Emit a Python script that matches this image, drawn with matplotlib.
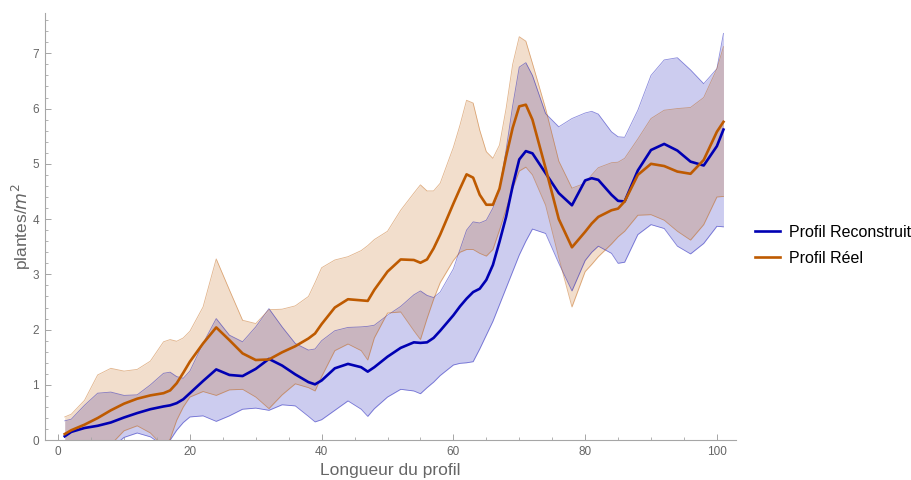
import matplotlib.pyplot as plt
from matplotlib.ticker import MultipleLocator

plt.rcParams["font.family"] = ["Liberation Sans", "DejaVu Sans"]

# positions le long du profil
x = [1, 2, 4, 6, 8, 10, 12, 14, 16, 17, 18, 19, 20, 22, 24, 26, 28, 30, 32, 34,
     36, 38, 39, 40, 42, 44, 46, 47, 48, 50, 52, 54, 55, 56, 57, 58, 60, 61, 62, 63,
     64, 65, 66, 67, 68, 69, 70, 71, 72, 74, 76, 78, 80, 81, 82, 84, 85, 86, 88, 90,
     92, 94, 96, 98, 100, 101]

# profil reconstruit (moyenne, bornes basse / haute)
recon_mid = [0.07, 0.15, 0.22, 0.26, 0.32, 0.41, 0.49, 0.56, 0.61, 0.63, 0.67, 0.74, 0.85, 1.07, 1.28, 1.18, 1.16, 1.29, 1.47, 1.35,
             1.19, 1.05, 1.01, 1.08, 1.30, 1.38, 1.32, 1.24, 1.32, 1.51, 1.67, 1.77, 1.76, 1.77, 1.85, 1.98, 2.26, 2.42, 2.56, 2.68,
             2.74, 2.90, 3.17, 3.59, 4.04, 4.60, 5.08, 5.23, 5.19, 4.83, 4.47, 4.25, 4.70, 4.74, 4.71, 4.44, 4.33, 4.32, 4.88, 5.25,
             5.36, 5.24, 5.04, 4.97, 5.32, 5.62]
recon_low = [-0.30, -0.30, -0.30, -0.25, -0.15, 0.05, 0.13, 0.06, -0.10, 0.00, 0.18, 0.32, 0.42, 0.44, 0.34, 0.44, 0.56, 0.58, 0.54, 0.64,
             0.62, 0.43, 0.33, 0.37, 0.54, 0.71, 0.56, 0.43, 0.57, 0.78, 0.92, 0.89, 0.84, 0.95, 1.05, 1.17, 1.36, 1.39, 1.40, 1.42,
             1.65, 1.90, 2.15, 2.45, 2.75, 3.05, 3.35, 3.60, 3.82, 3.74, 3.20, 2.70, 3.25, 3.40, 3.51, 3.38, 3.20, 3.22, 3.72, 3.90,
             3.83, 3.51, 3.37, 3.56, 3.87, 3.86]
recon_high = [0.35, 0.38, 0.63, 0.85, 0.87, 0.81, 0.82, 1.00, 1.21, 1.23, 1.15, 1.12, 1.25, 1.75, 2.20, 1.90, 1.78, 2.05, 2.38, 2.05,
              1.75, 1.63, 1.65, 1.80, 1.98, 2.04, 2.05, 2.06, 2.08, 2.26, 2.42, 2.63, 2.70, 2.62, 2.58, 2.68, 3.10, 3.45, 3.80, 3.95,
              3.93, 3.98, 4.20, 4.55, 5.25, 6.05, 6.75, 6.83, 6.60, 5.91, 5.67, 5.82, 5.92, 5.95, 5.90, 5.58, 5.49, 5.48, 5.97, 6.60,
              6.88, 6.92, 6.70, 6.45, 6.72, 7.36]

# profil réel (moyenne, bornes basse / haute)
reel_mid = [0.11, 0.18, 0.28, 0.40, 0.54, 0.66, 0.75, 0.81, 0.85, 0.90, 1.03, 1.22, 1.42, 1.75, 2.04, 1.81, 1.57, 1.45, 1.46, 1.59,
            1.70, 1.84, 1.93, 2.10, 2.40, 2.55, 2.53, 2.52, 2.72, 3.05, 3.27, 3.26, 3.21, 3.27, 3.47, 3.72, 4.28, 4.55, 4.81, 4.75,
            4.44, 4.26, 4.26, 4.55, 5.13, 5.65, 6.04, 6.07, 5.80, 4.92, 4.00, 3.49, 3.77, 3.92, 4.04, 4.16, 4.19, 4.32, 4.80, 5.00,
            4.96, 4.86, 4.82, 5.07, 5.58, 5.76]
reel_low = [-0.30, -0.30, -0.30, -0.25, -0.08, 0.17, 0.26, 0.13, -0.12, 0.02, 0.36, 0.60, 0.78, 0.88, 0.81, 0.91, 0.92, 0.78, 0.57, 0.82,
            1.02, 0.95, 0.89, 1.15, 1.62, 1.74, 1.62, 1.45, 1.85, 2.30, 2.32, 1.98, 1.82, 2.20, 2.55, 2.85, 3.25, 3.40, 3.45, 3.45,
            3.38, 3.33, 3.45, 3.80, 4.18, 4.55, 4.87, 4.94, 4.80, 4.25, 3.30, 2.41, 3.05, 3.18, 3.32, 3.55, 3.68, 3.78, 4.07, 4.08,
            3.98, 3.78, 3.62, 3.90, 4.40, 4.41]
reel_high = [0.42, 0.47, 0.72, 1.18, 1.30, 1.25, 1.28, 1.43, 1.78, 1.82, 1.79, 1.85, 1.97, 2.41, 3.28, 2.72, 2.17, 2.11, 2.36, 2.37,
             2.43, 2.60, 2.85, 3.12, 3.26, 3.32, 3.43, 3.52, 3.63, 3.78, 4.16, 4.47, 4.62, 4.51, 4.51, 4.65, 5.30, 5.70, 6.15, 6.10,
             5.61, 5.22, 5.10, 5.34, 6.00, 6.80, 7.30, 7.22, 6.82, 6.00, 5.05, 4.56, 4.65, 4.80, 4.93, 5.02, 5.03, 5.10, 5.45, 5.82,
             5.97, 6.00, 6.02, 6.20, 6.72, 7.12]

blue = "#0000b3"
orange = "#be5a00"
axis_grey = "#a6a6a6"
text_grey = "#666666"

fig, ax = plt.subplots(figsize=(9.12, 4.8), dpi=100)
fig.subplots_adjust(left=0.049, right=0.807, bottom=0.083, top=0.973)

# bandes
ax.fill_between(x, recon_low, recon_high, color=blue, alpha=0.2, lw=0)
ax.fill_between(x, reel_low, reel_high, color=orange, alpha=0.2, lw=0)
ax.plot(x, recon_low, color=blue, alpha=0.45, lw=0.6)
ax.plot(x, recon_high, color=blue, alpha=0.45, lw=0.6)
ax.plot(x, reel_low, color=orange, alpha=0.45, lw=0.6)
ax.plot(x, reel_high, color=orange, alpha=0.45, lw=0.6)

# courbes moyennes
ax.plot(x, recon_mid, color=blue, lw=1.9, label="Profil Reconstruit")
ax.plot(x, reel_mid, color=orange, lw=1.9, label="Profil Réel")

ax.set_xlim(-2.04, 102.9)
ax.set_ylim(0, 7.73)

for side in ["top", "right"]:
    ax.spines[side].set_visible(False)
for side in ["left", "bottom"]:
    ax.spines[side].set_color(axis_grey)
    ax.spines[side].set_linewidth(0.8)

ax.xaxis.set_major_locator(MultipleLocator(20))
ax.xaxis.set_minor_locator(MultipleLocator(5))
ax.yaxis.set_major_locator(MultipleLocator(1))
ax.yaxis.set_minor_locator(MultipleLocator(0.2))
ax.tick_params(which="major", direction="in", length=4, width=0.7, color=axis_grey,
               labelcolor=text_grey, labelsize=8.5, pad=4)
ax.tick_params(which="minor", direction="in", length=2.2, width=0.6, color=axis_grey)

ax.set_xlabel("Longueur du profil", fontsize=12.5, color=text_grey, labelpad=4)
ax.set_ylabel("plantes/$m^2$", fontsize=12.5, color=text_grey, labelpad=0)

ax.legend(loc="center left", bbox_to_anchor=(1.007, 0.456), frameon=False,
          fontsize=11.5, handlelength=1.56, handletextpad=0.55, labelspacing=0.7)

fig.savefig("out.png", dpi=100)
